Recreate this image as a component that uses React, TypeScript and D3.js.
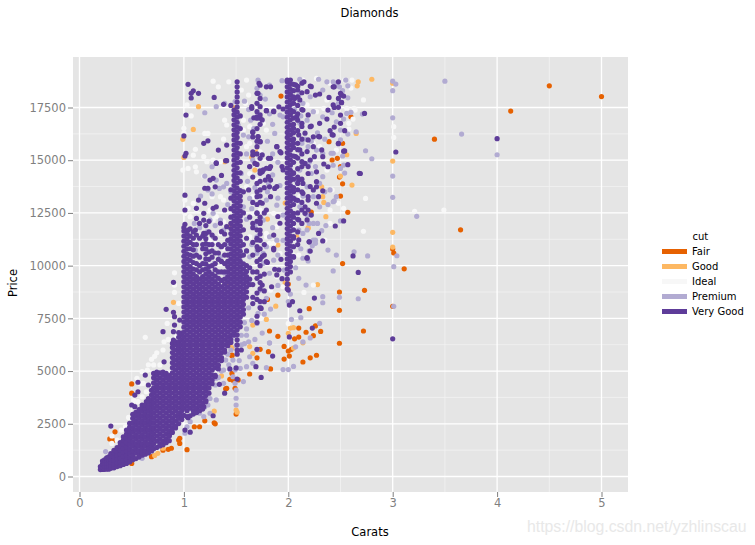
import React, { useEffect, useRef } from "react";
import * as d3 from "d3";

const cuts = ["Fair", "Good", "Ideal", "Premium", "Very Good"];
const cutColors = ["#e66101", "#fdb863", "#f7f7f7", "#b2abd2", "#5e3c99"];
const xTicks = [0, 1, 2, 3, 4, 5];
const yTicks = [0, 2500, 5000, 7500, 10000, 12500, 15000, 17500];
const xMinor = [0.5, 1.5, 2.5, 3.5, 4.5];
const yMinor = [1250, 3750, 6250, 8750, 11250, 13750, 16250];

// [carat, price]
const fairPoints = [
  [4.5, 18530], [5.0, 18020], [4.13, 17330], [3.4, 16000], [3.65, 11700], [3.11, 9850], [3.01, 10600], [3.0, 10790],
  [2.52, 10100], [2.57, 12530], [2.5, 13300], [2.52, 13880], [2.49, 14200], [2.42, 15010], [2.5, 14700], [2.6, 17060],
  [2.52, 15800], [2.49, 8750], [2.73, 8830], [2.2, 7960], [2.49, 7880], [3.0, 8070], [1.9, 8600], [2.72, 6900],
  [2.49, 6320], [2.31, 6880], [2.26, 7140], [2.1, 7040], [2.17, 6840], [2.24, 6680], [2.1, 6610], [2.06, 6530],
  [1.96, 6170], [2.03, 6030], [2.0, 5950], [2.01, 5710], [1.96, 5570], [2.14, 5430], [2.21, 5630], [2.27, 5750],
  [1.83, 5100], [1.82, 6900], [1.9, 6650], [1.81, 5920], [1.73, 6030], [1.8, 8400], [2.0, 9130], [1.7, 5630],
  [1.63, 4860], [1.46, 5730], [1.46, 4890], [1.44, 4610], [1.52, 4580], [1.49, 4180], [1.4, 4160], [1.03, 1270],
  [0.88, 1340], [0.85, 1290], [0.8, 1250], [0.95, 1730], [0.96, 1810], [0.96, 1570], [0.83, 1650], [1.29, 2550],
  [1.3, 2500], [1.2, 2640], [1.15, 2360], [1.1, 2360], [1.5, 2960], [0.5, 620], [0.69, 940], [0.29, 1780],
  [0.34, 2120], [0.32, 1700], [0.5, 4390], [0.5, 3950], [1.41, 4180], [1.47, 4570], [1.46, 5760], [1.93, 18040],
  [2.47, 15090], [2.22, 12540], [2.39, 15880],
];
const goodPoints = [
  [2.8, 18840], [2.67, 18720], [2.66, 18530], [3.0, 18650], [2.65, 16270], [2.56, 15260], [2.61, 13820], [2.5, 14250],
  [3.0, 14960], [3.0, 11580], [3.0, 10880], [2.28, 9100], [1.88, 8080], [2.02, 7040], [2.05, 7060], [2.0, 6790],
  [2.14, 6340], [2.05, 6090], [1.14, 17540], [1.09, 16460], [0.99, 15990], [1.0, 15130], [2.33, 13270], [2.34, 13000],
  [2.36, 12320], [2.19, 11770], [0.9, 8260], [0.95, 5330], [1.5, 3150], [1.29, 3100], [0.75, 1100], [0.8, 1340],
  [1.63, 6160], [1.66, 5840], [1.44, 6240], [1.36, 4770], [1.79, 7450], [1.66, 7180], [1.46, 6100], [1.45, 11930],
  [1.8, 12210], [1.97, 12970], [2.19, 11800], [1.41, 9160], [1.9, 10980], [1.97, 9180], [2.08, 11370], [1.7, 15400],
  [1.65, 15140], [1.68, 14530], [2.32, 13740], [1.39, 14930], [1.49, 17500], [1.51, 3050], [0.72, 1000],
];
const idealPoints = [
  [1.28, 18750], [1.33, 18480], [1.43, 18720], [1.03, 17620], [1.07, 17100], [1.0, 16510], [1.0, 16300], [1.2, 16270],
  [1.23, 16270], [1.38, 16000], [1.39, 16900], [1.41, 16670], [1.11, 15520], [1.09, 15240], [1.19, 15170], [0.99, 14530],
  [1.04, 14610], [1.11, 14690], [1.12, 14450], [1.22, 14930], [1.28, 15010], [1.35, 14930], [1.19, 14250], [1.01, 13110],
  [1.04, 12720], [1.01, 12480], [1.06, 12320], [1.27, 13270], [1.35, 13270], [1.38, 13110], [1.39, 12640], [1.31, 12320],
  [1.38, 12080], [1.23, 12160], [1.12, 11690], [1.35, 11530], [1.3, 11060], [1.38, 10820], [1.6, 18800], [1.55, 18330],
  [1.62, 18090], [1.59, 17700], [1.57, 16900], [1.63, 16590], [1.57, 16430], [1.76, 16750], [1.79, 16430], [1.63, 15800],
  [1.6, 15640], [1.73, 15400], [1.63, 14370], [1.7, 14060], [1.6, 13740], [1.66, 13270], [1.73, 12640], [1.86, 12480],
  [1.89, 11850], [1.79, 11370], [2.14, 18800], [2.27, 18880], [2.61, 18800], [2.54, 18800], [2.4, 18650], [2.37, 17860],
  [2.34, 17460], [2.27, 17300], [2.18, 17620], [2.56, 17460], [2.64, 17380], [2.58, 16750], [2.24, 15800], [2.3, 15640],
  [2.46, 15480], [2.37, 14530], [2.11, 13270], [2.42, 13590], [2.48, 12960], [2.4, 12640], [2.05, 11850], [2.02, 11370],
  [2.08, 11210], [2.4, 12000], [1.92, 10580], [1.86, 11060], [2.6, 18420], [2.72, 17860], [2.63, 17460], [2.62, 16950],
  [2.58, 16480], [3.01, 16590], [3.01, 16080], [2.74, 13190], [2.53, 12720], [2.72, 11630], [3.21, 12580], [3.49, 12640],
  [2.24, 9080], [2.15, 8730], [1.83, 8840], [2.0, 7260], [2.05, 10500], [2.1, 10500], [2.35, 11210], [1.74, 7500],
  [0.91, 9660], [0.91, 9080], [0.91, 8730], [0.84, 7260], [0.63, 6600], [0.74, 5870], [0.8, 6000], [0.81, 6390],
  [0.85, 6500], [0.69, 5560], [0.71, 5290], [0.77, 5290], [0.65, 5050], [0.6, 4970], [0.55, 4660], [0.61, 4420],
  [0.64, 4020], [0.6, 3780], [0.56, 3550], [0.44, 2360], [0.4, 2200], [0.31, 1920], [0.31, 1570], [0.36, 1730],
  [0.93, 6630], [0.95, 8210], [1.09, 12960], [1.12, 12640], [1.25, 12640], [1.28, 12170], [1.09, 11210], [1.06, 10740],
  [1.25, 11210], [1.66, 12480], [1.63, 11370], [1.79, 11530], [1.92, 12000], [1.82, 11060], [1.95, 9000], [1.89, 9480],
  [2.14, 12960], [0.72, 5700], [0.66, 5300], [0.58, 4400], [0.52, 3600], [0.47, 2800],
];
const premiumPoints = [
  [3.5, 18750], [3.0, 18750], [3.03, 18610], [3.0, 18300], [3.0, 17010], [3.66, 16240], [4.0, 15260], [2.8, 15070],
  [2.74, 15450], [3.0, 14250], [3.0, 13240], [3.23, 12340], [3.04, 10470], [3.01, 9950], [2.76, 10460], [2.63, 10660],
  [2.46, 10500], [2.43, 9750], [2.5, 12120], [2.44, 13070], [2.4, 13590], [2.54, 14390], [2.53, 14770], [2.5, 14610],
  [2.43, 14760], [2.65, 16350], [2.57, 16240], [2.5, 15960], [2.41, 15330], [2.52, 15200], [2.71, 17190], [2.6, 17270],
  [2.56, 17220], [2.55, 18800], [2.43, 18720], [2.57, 18530], [2.49, 18480], [2.52, 18300], [2.57, 17960], [2.48, 17700],
  [2.42, 17250], [2.53, 16950], [2.46, 16820], [2.5, 16430], [3.01, 8070], [2.67, 8430], [2.49, 8500], [2.33, 8530],
  [2.33, 8240], [2.38, 10740], [2.32, 11660], [2.24, 12000], [2.26, 11210], [2.23, 10940], [2.17, 9080], [2.02, 8650],
  [2.12, 7530], [2.03, 7450], [2.3, 7260], [2.21, 6570], [2.14, 6380], [2.07, 6150], [2.05, 5220], [2.0, 5070],
  [1.95, 5070], [1.82, 6330], [1.83, 7940], [1.9, 9060], [1.96, 9790], [2.19, 10220], [2.14, 10350], [1.5, 3710],
  [1.5, 3390], [1.5, 4100], [1.49, 4420], [1.47, 4730], [1.49, 5050], [1.54, 5130], [1.57, 4500], [1.3, 4340],
  [1.31, 4660], [1.38, 4420], [1.47, 5520], [1.51, 5840], [1.55, 6240], [1.62, 6390], [1.63, 5680], [1.6, 5210],
  [1.66, 5370], [1.79, 5160], [1.82, 6340], [1.7, 7260], [1.71, 7740], [1.73, 8050], [1.79, 8450], [1.19, 2840],
  [1.12, 3070], [1.03, 2360], [1.01, 2050], [0.96, 2920], [0.87, 2050], [0.77, 1730], [0.68, 1260], [0.6, 860],
  [0.25, 1180], [1.25, 3000], [1.23, 3390], [1.31, 3630], [1.38, 5050], [1.4, 5520], [1.7, 6000], [1.71, 18800],
  [1.7, 18410], [1.73, 18090], [1.82, 18560], [1.94, 18770], [2.11, 18840], [2.29, 18840], [2.37, 18720], [2.46, 18650],
  [2.1, 18090], [2.14, 17700], [2.21, 18010], [2.33, 18330], [1.31, 17540], [1.39, 17700], [1.49, 17780], [1.2, 17250],
  [1.57, 16190], [1.62, 16110], [1.52, 16670], [1.87, 16270], [1.92, 17140], [1.95, 17060], [2.11, 16750], [2.18, 16900],
  [2.24, 17300], [2.33, 17060], [2.13, 15800], [2.19, 15640], [2.27, 15480], [2.33, 15330], [2.43, 15330], [2.11, 14530],
  [2.22, 14370], [2.33, 14220], [2.18, 13740], [2.24, 13270], [2.3, 12790], [2.11, 12790], [2.18, 12400], [2.43, 13030],
  [2.46, 13270], [2.24, 11210], [2.26, 11060], [2.1, 11690], [2.14, 11530], [2.18, 11690], [1.31, 14060], [1.41, 13900],
  [1.38, 13740], [1.34, 13660], [1.23, 13590], [1.27, 14690], [1.2, 14250], [1.28, 12480], [1.25, 12160], [1.28, 11370],
  [1.38, 11690], [1.35, 12160], [1.75, 14450], [1.81, 13900], [1.79, 13110], [1.89, 12870], [1.76, 12160], [1.82, 11370],
  [1.89, 11210], [1.55, 14370], [1.63, 13190], [1.57, 12790], [1.7, 11370], [1.7, 10580], [1.76, 10580], [1.86, 10260],
  [1.35, 10900], [1.35, 10420], [1.39, 9640], [1.39, 9000], [1.35, 8690], [1.63, 10420], [1.7, 10740], [1.79, 10900],
  [1.76, 10110], [1.63, 9160], [1.73, 8840], [1.82, 9640], [1.11, 10740], [1.19, 10110], [1.14, 9000], [1.06, 8840],
  [1.29, 10110], [1.6, 6700], [1.65, 7400], [1.68, 6500], [1.58, 7300], [1.62, 8000], [1.75, 6800], [1.77, 7700],
  [1.58, 17800], [1.62, 17400], [1.64, 16900], [1.67, 16500], [1.6, 15300], [1.66, 15000], [1.63, 14700], [1.61, 14000],
  [1.68, 13700], [1.65, 12700], [1.6, 12200], [1.68, 11900], [1.65, 11000], [1.6, 10700], [1.78, 17900], [1.82, 17200],
  [1.85, 16700], [1.8, 15900], [1.85, 15300], [1.9, 14900], [1.85, 14300], [1.92, 13800], [1.8, 13500], [1.9, 13200],
  [1.95, 12400], [1.85, 11800], [1.95, 11200], [1.9, 10500], [2.06, 17400], [2.12, 17100], [2.16, 16000], [2.22, 15900],
  [2.28, 16300], [2.35, 16000], [2.2, 14900], [2.26, 14700], [2.08, 14000], [2.14, 13300], [2.3, 13900], [2.35, 13500],
  [2.38, 12900], [2.2, 12000], [2.28, 12000], [2.36, 11900], [2.12, 10800], [2.2, 10700], [2.07, 9900], [2.1, 9400],
  [2.0, 8300], [1.1, 12000], [1.15, 11800], [1.22, 11600], [1.3, 11900], [1.42, 11000], [1.45, 13500], [1.42, 12900],
  [1.16, 13300], [1.27, 13400], [1.42, 5800], [1.45, 6000], [1.5, 6200], [1.55, 6700], [1.6, 7000], [1.58, 6300],
  [1.53, 5500], [1.36, 5000], [1.33, 4700], [1.43, 5300], [1.25, 3700], [1.2, 3300], [1.06, 2600], [1.15, 3000],
];
const veryGoodPoints = [
  [1.04, 18600], [1.09, 18290], [1.07, 18170], [1.07, 17950], [1.14, 18170], [1.29, 17980], [1.38, 17650], [1.45, 17600],
  [1.02, 17140], [1.0, 16150], [1.41, 15720], [1.23, 15920], [1.19, 15800], [1.02, 15330], [1.01, 15200], [1.31, 14880],
  [1.4, 14980], [1.28, 14140], [1.25, 14060], [1.2, 13670], [1.3, 13740], [1.36, 14280], [1.73, 18560], [1.79, 18480],
  [1.83, 18480], [1.71, 18170], [1.65, 17460], [1.7, 17300], [1.7, 17060], [1.73, 17000], [1.67, 17010], [1.79, 17350],
  [1.86, 17330], [1.91, 17530], [1.95, 17430], [1.66, 16320], [1.71, 16110], [1.73, 15880], [1.89, 15640], [1.93, 15350],
  [1.81, 15090], [1.82, 14610], [1.75, 14450], [1.81, 14220], [1.82, 13740], [1.87, 13660], [1.62, 13590], [2.15, 18720],
  [2.21, 18520], [2.39, 17980], [2.48, 18720], [2.43, 18480], [2.26, 18090], [2.3, 18140], [2.51, 18090], [2.51, 17740],
  [2.43, 17620], [2.38, 17380], [2.5, 17140], [2.5, 16750], [2.37, 16950], [2.3, 16750], [2.22, 16620], [2.54, 16400],
  [2.4, 16400], [2.43, 16190], [2.3, 16110], [2.24, 16110], [2.19, 15960], [2.48, 15800], [2.54, 15440], [2.33, 15170],
  [2.21, 15010], [2.16, 14850], [2.38, 14690], [2.34, 14820], [2.27, 14450], [2.19, 14370], [2.27, 13980], [2.27, 13740],
  [2.14, 13900], [2.33, 13550], [2.27, 12960], [2.19, 13110], [2.16, 12790], [2.22, 12400], [2.18, 12170], [2.53, 12120],
  [2.45, 11880], [2.29, 11530], [2.33, 11170], [2.2, 11130], [2.18, 10350], [2.62, 10460], [2.68, 14380], [2.44, 18480],
  [2.5, 18170], [2.53, 18040], [2.48, 17930], [2.51, 17730], [2.44, 17500], [2.48, 17510], [2.73, 17220], [2.44, 16570],
  [2.42, 16210], [2.48, 15780], [2.53, 15430], [3.03, 15390], [4.0, 16020], [2.57, 14790], [2.69, 14370], [2.67, 9680],
  [3.0, 6530], [2.25, 8460], [2.11, 7860], [2.23, 7040], [2.01, 6620], [1.85, 5710], [1.74, 4700], [2.18, 10380],
  [2.2, 11130], [2.21, 10690], [2.0, 8840], [2.04, 8290], [2.01, 8130], [1.94, 9380], [1.89, 9560], [1.87, 9830],
  [1.77, 8290], [1.75, 9080], [1.86, 11450], [1.86, 10820], [1.74, 7970], [1.5, 5150], [1.44, 5100], [1.51, 4620],
  [1.55, 6000], [1.45, 6360], [1.7, 6030], [1.69, 5210], [1.34, 4370], [1.39, 3950], [0.3, 2390], [0.56, 4470],
  [0.56, 4020], [0.53, 3860], [0.63, 4810], [0.66, 4340], [0.5, 3390], [0.53, 3310], [0.64, 3550], [0.6, 3390],
  [0.8, 6870], [0.83, 7930], [0.9, 7790], [0.91, 7580], [0.91, 7180], [0.9, 6870], [0.9, 6470], [0.95, 6080],
  [0.81, 5440], [0.9, 9210], [0.96, 7420], [1.19, 3310], [1.12, 3030], [1.28, 2880], [1.04, 2790], [1.01, 2200],
  [1.06, 2100], [0.86, 1970], [0.96, 2920], [0.69, 1570], [1.3, 4730], [1.01, 13340], [1.01, 12640], [1.01, 11960],
  [1.12, 12720], [1.14, 13110], [1.2, 12960], [1.19, 12480], [1.12, 12240], [1.11, 11690], [1.04, 11690], [1.19, 12160],
  [1.28, 12720], [1.31, 12790], [1.39, 12640], [1.35, 12010], [1.36, 11610], [1.41, 11850], [1.19, 11530], [1.27, 11450],
  [1.23, 13670], [1.31, 14850], [1.41, 14980], [1.33, 15480], [1.91, 9800], [1.93, 10300], [1.84, 9000], [1.8, 10150],
  [1.72, 18650], [1.7, 18170], [1.73, 17930], [1.7, 17700], [1.65, 17540], [1.73, 17540], [1.79, 17350], [1.86, 17300],
  [1.73, 17150], [1.7, 16990], [1.75, 16910], [1.66, 16350], [1.71, 16120], [1.73, 15880], [1.7, 15640], [1.75, 15250],
  [1.66, 15250], [1.73, 15090], [1.68, 14850], [1.83, 15090], [1.89, 15640], [1.92, 15410], [1.94, 14700], [1.95, 14540],
  [1.79, 14620], [1.76, 14540], [1.73, 14380], [1.78, 14060], [1.73, 13590], [1.7, 13270], [1.75, 12960], [1.7, 12480],
  [1.73, 12090], [1.73, 11690], [1.7, 11220], [1.71, 10750], [1.75, 10430], [1.79, 10190], [1.86, 10750], [1.9, 12330],
  [1.92, 12010], [1.79, 12640], [1.83, 14060], [1.89, 13750], [1.83, 13270], [1.83, 14700], [2.07, 18570], [2.09, 18330],
  [2.13, 18650], [2.06, 17930], [2.11, 17860], [2.18, 18250], [2.22, 18490], [2.14, 17380], [2.19, 17150], [2.08, 17070],
  [2.13, 16750], [2.05, 16510], [2.1, 16200], [2.16, 16280], [2.21, 16590], [2.05, 15800], [2.11, 15490], [2.18, 15410],
  [2.24, 15640], [2.29, 16120], [2.07, 15170], [2.13, 14930], [2.19, 14700], [2.25, 15170], [2.32, 15490], [2.05, 14380],
  [2.1, 14060], [2.21, 13750], [2.14, 13430], [2.07, 13120], [2.13, 12640], [2.19, 12640], [2.05, 12480], [2.1, 12170],
  [2.16, 12480], [2.24, 13590], [2.19, 13270], [2.29, 13270], [2.05, 11380], [2.1, 11220], [2.05, 10430],
];
// the solid part of the Very Good cloud, column by column: [carat, prices]
const veryGoodColumns: [number, number[]][] = [
  [0.2, [330, 470]],
  [0.22, [335, 450, 590, 730]],
  [0.24, [340, 500, 640, 790]],
  [0.26, [352, 490, 630, 770, 880]],
  [0.28, [345, 480, 630, 780, 930]],
  [0.3, [390, 530, 680, 830, 980, 1090]],
  [0.33, [410, 590, 770, 950, 1130, 1240]],
  [0.36, [470, 650, 830, 1010, 1190, 1370]],
  [0.39, [510, 700, 890, 1080, 1270, 1460, 1610]],
  [0.42, [570, 760, 950, 1140, 1330, 1520, 1710, 1880]],
  [0.45, [620, 810, 1010, 1210, 1410, 1610, 1810, 2010, 2200]],
  [0.48, [690, 900, 1110, 1320, 1530, 1740, 1950, 2160, 2340, 2520]],
  [0.51, [790, 1000, 1220, 1440, 1660, 1880, 2100, 2320, 2540, 2760, 2950]],
  [0.54, [850, 1110, 1330, 1550, 1770, 1990, 2210, 2430, 2650, 2870, 3040]],
  [0.57, [920, 1070, 1220, 1440, 1660, 1880, 2100, 2320, 2540, 2760, 2980, 3170]],
  [0.6, [1010, 1110, 1330, 1550, 1770, 1990, 2210, 2430, 2650, 2870, 3090, 3280]],
  [0.63, [1060, 1220, 1440, 1660, 1880, 2100, 2320, 2540, 2760, 2980, 3200, 3400]],
  [0.66, [1120, 1330, 1550, 1770, 1990, 2210, 2430, 2650, 2870, 3090, 3310, 3530, 3700]],
  [0.69, [1210, 1440, 1660, 1880, 2100, 2320, 2540, 2760, 2980, 3200, 3420, 3640, 3860, 4090]],
  [0.71, [1320, 1560, 1800, 2040, 2280, 2520, 2760, 3000, 3240, 3480, 3720, 3960, 4200, 4440, 4680, 4890]],
  [0.74, [1380, 1680, 1920, 2160, 2400, 2640, 2880, 3120, 3360, 3600, 3840, 4080, 4320, 4560, 4800, 4950]],
  [0.77, [1450, 1560, 1800, 2040, 2280, 2520, 2760, 3000, 3240, 3480, 3720, 3960, 4200, 4440, 4680, 4920]],
  [0.8, [1500, 1680, 1920, 2160, 2400, 2640, 2880, 3120, 3360, 3600, 3840, 4080, 4320, 4560, 4800, 4950]],
  [0.83, [1600, 1800, 2040, 2280, 2520, 2760, 3000, 3240, 3480, 3720, 3960, 4200, 4440, 4680, 4890]],
  [0.86, [1700, 1920, 2160, 2400, 2640, 2880, 3120, 3360, 3600, 3840, 4080, 4320, 4560, 4790]],
  [0.89, [2090, 2280, 2520, 2760, 3000, 3240, 3480, 3720, 3960, 4200, 4440, 4680, 4920, 5160, 5400, 5640, 5880, 6120, 6310]],
  [0.92, [2300, 2400, 2640, 2880, 3120, 3360, 3600, 3840, 4080, 4320, 4560, 4800, 5040, 5280, 5520, 5760, 6000, 6240, 6380]],
  [0.95, [2510, 2760, 3000, 3240, 3480, 3720, 3960, 4200, 4440, 4680, 4920, 5160, 5400, 5640, 5880, 6120, 6360, 6600, 6830]],
  [0.98, [2700, 2880, 3120, 3360, 3600, 3840, 4080, 4320, 4560, 4800, 5040, 5280, 5520, 5760, 6000, 6240, 6480, 6720, 6800]],
  [1.0, [2900, 3240, 3480, 3720, 3960, 4200, 4440, 4680, 4920, 5160, 5400, 5640, 5880, 6120, 6360, 6600, 6840, 7080, 7320, 7560, 7800, 8040, 8280, 8520, 8760, 9000, 9240, 9480, 9720, 9960, 10200, 10440, 10680, 10920, 11160, 11400, 11640, 11800]],
  [1.03, [2840, 3120, 3360, 3600, 3840, 4080, 4320, 4560, 4800, 5040, 5280, 5520, 5760, 6000, 6240, 6480, 6720, 6960, 7200, 7440, 7680, 7920, 8160, 8400, 8640, 8880, 9120, 9360, 9600, 9840, 10080, 10320, 10560, 10800, 11040, 11280, 11520]],
  [1.06, [2880, 3240, 3480, 3720, 3960, 4200, 4440, 4680, 4920, 5160, 5400, 5640, 5880, 6120, 6360, 6600, 6840, 7080, 7320, 7560, 7800, 8040, 8280, 8520, 8760, 9000, 9240, 9480, 9720, 9960, 10250, 10500, 10800, 11100, 11400, 11750]],
  [1.09, [2960, 3120, 3360, 3600, 3840, 4080, 4320, 4560, 4800, 5040, 5280, 5520, 5760, 6000, 6240, 6480, 6720, 6960, 7200, 7440, 7680, 7920, 8160, 8400, 8640, 8880, 9120, 9360, 9600, 9840, 10150, 10450, 10750, 11000, 11300, 11600]],
  [1.12, [3050, 3240, 3480, 3720, 3960, 4200, 4440, 4680, 4920, 5160, 5400, 5640, 5880, 6120, 6360, 6600, 6840, 7080, 7320, 7560, 7800, 8040, 8280, 8520, 8760, 9000, 9240, 9480, 9800, 10100, 10500, 11000, 11450]],
  [1.15, [3120, 3360, 3600, 3840, 4080, 4320, 4560, 4800, 5040, 5280, 5520, 5760, 6000, 6240, 6480, 6720, 6960, 7200, 7440, 7680, 7920, 8160, 8400, 8640, 8880, 9120, 9360, 9700, 10000, 10400, 11300, 12000]],
  [1.18, [3200, 3480, 3720, 3960, 4200, 4440, 4680, 4920, 5160, 5400, 5640, 5880, 6120, 6360, 6600, 6840, 7080, 7320, 7560, 7800, 8040, 8280, 8520, 8760, 9000, 9240, 9480, 9800, 10100, 10800, 11000, 11400]],
  [1.21, [3550, 3600, 3840, 4080, 4320, 4560, 4800, 5040, 5280, 5520, 5760, 6000, 6240, 6480, 6720, 6960, 7200, 7440, 7680, 7920, 8160, 8400, 8640, 8880, 9120, 9360, 9600, 9840, 10080, 10320, 10560, 10800, 11040, 11280, 11520, 11900]],
  [1.24, [3950, 4200, 4440, 4680, 4920, 5160, 5400, 5640, 5880, 6120, 6360, 6600, 6840, 7080, 7320, 7560, 7800, 8040, 8280, 8520, 8760, 9000, 9240, 9480, 9720, 9960, 10300, 10650, 11000, 11600, 12100]],
  [1.27, [4400, 4560, 4800, 5040, 5280, 5520, 5760, 6000, 6240, 6480, 6720, 6960, 7200, 7440, 7680, 7920, 8160, 8400, 8640, 8880, 9120, 9360, 9600, 10000, 10400, 10700, 11000]],
  [1.3, [4800, 5160, 5400, 5640, 5880, 6120, 6360, 6600, 6840, 7080, 7320, 7560, 7800, 8040, 8280, 8520, 8760, 9000, 9240, 9500, 9800, 10100, 10600, 11300]],
  [1.33, [5100, 5280, 5520, 5760, 6000, 6240, 6480, 6720, 6960, 7200, 7440, 7680, 7920, 8160, 8400, 8640, 8880, 9120, 9400, 9700, 10300, 10600, 11000]],
  [1.36, [5500, 5640, 5880, 6120, 6360, 6600, 6840, 7080, 7320, 7560, 7800, 8040, 8280, 8520, 8760, 9000, 9300, 9700, 10200, 10900]],
  [1.39, [5900, 6000, 6240, 6480, 6720, 6960, 7200, 7440, 7680, 7920, 8160, 8400, 8640, 8880, 9120, 9360, 9700, 10100, 10500, 11000, 11500]],
  [1.42, [6200, 6360, 6600, 6840, 7080, 7320, 7560, 7800, 8040, 8280, 8520, 8760, 9000, 9240, 9480, 9720, 9960, 10200, 10500, 10800, 11200]],
  [1.45, [6500, 6720, 6960, 7200, 7440, 7680, 7920, 8160, 8400, 8640, 8880, 9120, 9360, 9600, 9840, 10080, 10320, 10560, 10800, 11040, 11280, 11520, 11760, 12000, 12300, 12700, 13200, 13600]],
  [1.48, [6700, 6840, 7080, 7320, 7560, 7800, 8040, 8280, 8520, 8760, 9000, 9240, 9480, 9720, 9960, 10200, 10440, 10680, 10920, 11160, 11400, 11640, 11880, 12120, 12360, 12600, 12840, 13080, 13320, 13560, 13800, 14040, 14280, 14520, 14760, 15000, 15240, 15480, 15720, 15960, 16200, 16440, 16680, 16920, 17160, 17380]],
  [1.51, [5800, 6000, 6240, 6480, 6720, 6960, 7200, 7440, 7680, 7920, 8160, 8400, 8640, 8880, 9120, 9360, 9600, 9840, 10080, 10320, 10560, 10800, 11040, 11280, 11520, 11760, 12000, 12240, 12480, 12720, 12960, 13200, 13440, 13680, 13920, 14160, 14400, 14640, 14880, 15120, 15360, 15600, 15840, 16080, 16320, 16560, 16800, 17040, 17280, 17520, 17760, 18000, 18240, 18480, 18720]],
  [1.54, [7100, 7320, 7560, 7800, 8040, 8280, 8520, 8760, 9000, 9240, 9480, 9720, 9960, 10200, 10440, 10680, 10920, 11160, 11400, 11640, 11880, 12120, 12360, 12600, 12840, 13080, 13300, 13560, 14000, 14400, 14900, 15300, 15800, 16500, 17100]],
  [1.57, [7700, 7920, 8160, 8400, 8640, 8880, 9120, 9360, 9600, 9840, 10080, 10500, 11000, 11700, 12500, 13500]],
  [1.6, [8500, 8760, 9000, 9240, 9480, 9720, 10000, 10700, 11300]],
  [1.63, [9100, 9360, 9900, 12300, 14700]],
  [1.66, [8200, 8500, 9100, 9700, 10500, 11100, 11800, 12000, 13000, 14200, 15400, 16100]],
  [1.7, [7300, 7600, 8400, 8700, 9400, 9700, 10200, 10900, 11300, 11700, 12100, 12500, 12900, 13500, 13900, 14800, 15300, 15900, 16500]],
  [1.73, [8000, 8300, 8900, 9200, 9500, 10000, 10300, 10800, 11200, 11500, 12000, 12300, 13000, 13300, 14000, 14500, 16700]],
  [1.77, [8800, 9600, 10500, 11000, 12500, 13700]],
  [1.99, [8900, 9120, 9360, 9600, 9840, 10080, 10320, 10560, 10800, 11040, 11280, 11520, 11760, 12000, 12240, 12480, 12720, 12960, 13200, 13440, 13680, 13920, 14160, 14400, 14640, 14880, 15120, 15360, 15600, 15840, 16080, 16320, 16560, 16800, 17040, 17280, 17520, 17760, 18000, 18240, 18480, 18720, 18800]],
  [2.02, [9700, 9960, 10200, 10440, 10680, 10920, 11160, 11400, 11640, 11880, 12120, 12360, 12600, 12840, 13080, 13320, 13560, 13800, 14040, 14280, 14520, 14760, 15000, 15240, 15480, 15720, 15960, 16200, 16440, 16680, 16920, 17160, 17400, 17640, 17880, 18120, 18360, 18600, 18800]],
  [2.05, [10400, 10900, 11300, 11700, 12000, 12300, 12900, 13200, 13500, 13700, 14100, 14400, 14900, 15200, 15600, 16000, 16300, 16700, 17000, 17300, 17700, 18000, 18300, 18600]],
  [2.09, [11000, 11600, 12200, 12500, 13100, 13600, 13900, 14200, 14600, 15100, 15500, 15800, 16400, 16900, 17200, 17600, 18000, 18500]],
  [2.13, [12000, 13000, 13500, 14100, 14700, 15300, 16000, 16600, 17400, 18200]],
];

const seriesPoints = [fairPoints, goodPoints, idealPoints, premiumPoints, veryGoodPoints.concat(
  veryGoodColumns.flatMap(([carat, prices]) => prices.map((price) => [carat, price]))
)];

const width = 755;
const height = 545;
const panel = { left: 73, right: 628, top: 57, bottom: 492 };
const font = "'DejaVu Sans', sans-serif";

export default function App() {
  const svgRef = useRef<SVGSVGElement>(null);

  useEffect(() => {
    const svg = d3.select(svgRef.current);
    if (!svg.node()) return;
    svg.selectAll("*").remove();

    const x = d3.scaleLinear().domain([0, 5]).range([79.5, 601.5]);
    const y = d3.scaleLinear().domain([0, 17500]).range([476.5, 107.5]);

    svg.append("rect").attr("width", width).attr("height", height).attr("fill", "#fff");
    svg.append("rect")
      .attr("x", panel.left).attr("y", panel.top)
      .attr("width", panel.right - panel.left).attr("height", panel.bottom - panel.top)
      .attr("fill", "#e5e5e5");

    // grid
    const grid = svg.append("g");
    grid.selectAll(".vm").data(xMinor).join("line")
      .attr("x1", (d) => x(d)).attr("x2", (d) => x(d)).attr("y1", panel.top).attr("y2", panel.bottom)
      .attr("stroke", "#f2f2f2").attr("stroke-width", 0.8);
    grid.selectAll(".hm").data(yMinor).join("line")
      .attr("y1", (d) => y(d)).attr("y2", (d) => y(d)).attr("x1", panel.left).attr("x2", panel.right)
      .attr("stroke", "#f2f2f2").attr("stroke-width", 0.8);
    grid.selectAll(".v").data(xTicks).join("line")
      .attr("x1", (d) => x(d)).attr("x2", (d) => x(d)).attr("y1", panel.top).attr("y2", panel.bottom)
      .attr("stroke", "#fff").attr("stroke-width", 1.3);
    grid.selectAll(".h").data(yTicks).join("line")
      .attr("y1", (d) => y(d)).attr("y2", (d) => y(d)).attr("x1", panel.left).attr("x2", panel.right)
      .attr("stroke", "#fff").attr("stroke-width", 1.3);

    // points, one layer per cut
    seriesPoints.forEach((pts, i) => {
      svg.append("g").selectAll("circle").data(pts).join("circle")
        .attr("cx", (d) => x(d[0])).attr("cy", (d) => y(d[1]))
        .attr("r", 2.6).attr("fill", cutColors[i]);
    });

    // axes
    const xAxis = svg.append("g").attr("transform", `translate(0,${panel.bottom})`)
      .call(d3.axisBottom(x).tickValues(xTicks).tickSize(5).tickPadding(2).tickFormat((d) => String(d)));
    const yAxis = svg.append("g").attr("transform", `translate(${panel.left},0)`)
      .call(d3.axisLeft(y).tickValues(yTicks).tickSize(5).tickPadding(2).tickFormat((d) => String(d)));
    [xAxis, yAxis].forEach((a) => {
      a.select(".domain").remove();
      a.selectAll(".tick line").attr("stroke", "#7f7f7f");
      a.selectAll(".tick text").attr("fill", "#7f7f7f").attr("font-family", font).attr("font-size", 11.5);
    });

    // titles
    const label = (t: string, tx: number, ty: number, size: number) =>
      svg.append("text").attr("x", tx).attr("y", ty).attr("text-anchor", "middle")
        .attr("font-family", font).attr("font-size", size).attr("fill", "#000").text(t);
    label("Diamonds", 369.5, 17, 11.5);
    label("Carats", 370, 536, 11.5);
    label("Price", 0, 0, 11.5).attr("transform", "translate(17,283) rotate(-90)");

    // legend
    svg.append("text").attr("x", 692.5).attr("y", 240).attr("font-family", font).attr("font-size", 10).text("cut");
    cuts.forEach((c, i) => {
      svg.append("rect").attr("x", 662).attr("y", 249 + i * 15).attr("width", 25).attr("height", 5).attr("fill", cutColors[i]);
      svg.append("text").attr("x", 692).attr("y", 255 + i * 15).attr("font-family", font).attr("font-size", 10)
        .attr("fill", "#000").text(c);
    });

    // watermark
    svg.append("text").attr("x", 527).attr("y", 532)
      .attr("font-family", "'Liberation Sans', Arial, sans-serif").attr("font-size", 15.8)
      .attr("fill", "#e8e8e8").text("https://blog.csdn.net/yzhlinscau");
  }, []);

  return (
    <svg ref={svgRef} width={width} height={height} style={{ position: "absolute", left: 0, top: 0, display: "block" }} />
  );
}
